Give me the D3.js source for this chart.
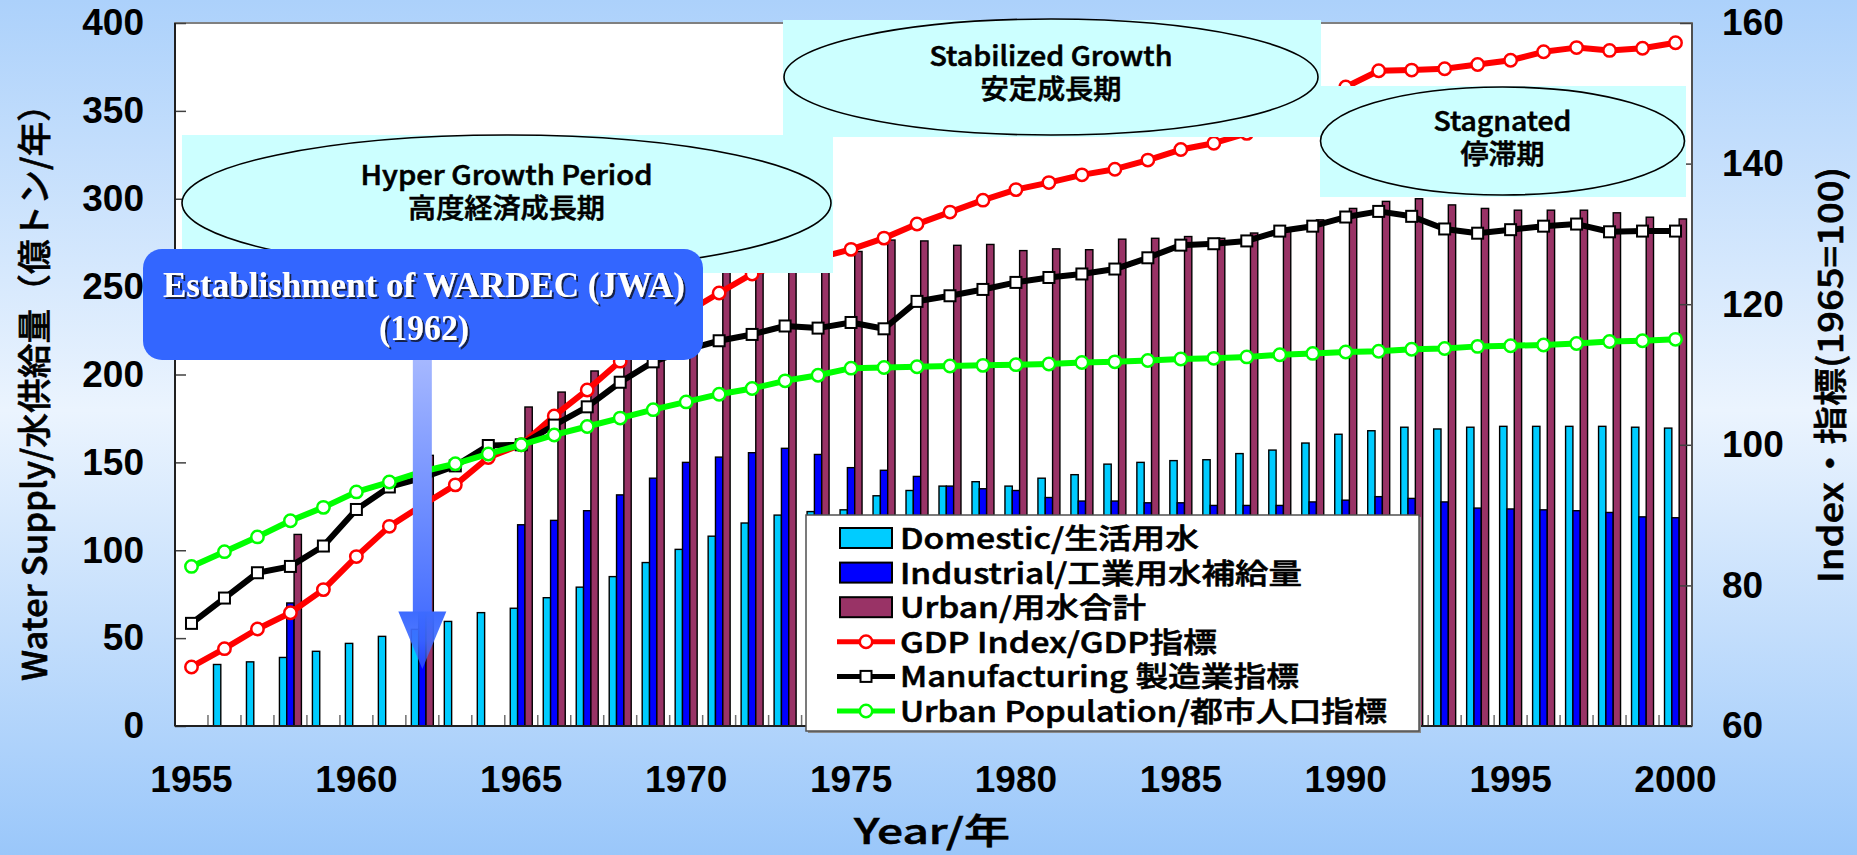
<!DOCTYPE html>
<html>
<head>
<meta charset="utf-8">
<script src="https://d3js.org/d3.v7.min.js"></script>
<style>
  html, body { margin: 0; padding: 0; }
  svg { display: block; }
</style>
</head>
<body>
<svg id="chart" width="1857" height="855"></svg>
<script>
// --- data ---
const years = [1955, 1956, 1957, 1958, 1959, 1960, 1961, 1962, 1963, 1964,
  1965, 1966, 1967, 1968, 1969, 1970, 1971, 1972, 1973, 1974,
  1975, 1976, 1977, 1978, 1979, 1980, 1981, 1982, 1983, 1984,
  1985, 1986, 1987, 1988, 1989, 1990, 1991, 1992, 1993, 1994,
  1995, 1996, 1997, 1998, 1999, 2000];

// 億トン/年
const domestic = [null, 35, 36.5, 39, 42.5, 47, 51, 55, 59.5, 64.5,
  67, 73, 79, 85, 93, 100.5, 108, 115.5, 120, 122,
  123, 131, 134, 136.5, 139, 136.5, 141, 143, 149, 150,
  151, 151.5, 155, 157, 161, 166, 168, 170, 169, 170,
  170.5, 170.5, 170.5, 170.5, 170, 169.5];
const industrial = [null, null, null, 70, null, null, null, 99, null, null,
  114.5, 117, 122.5, 131.5, 141, 150, 153, 155.5, 158, 154.5,
  147, 145.5, 142, 136.5, 135, 134, 130, 128, 128, 127,
  127, 125.5, 125.5, 125.5, 127.5, 128.5, 130.5, 129.5, 127.5, 124,
  123.5, 123, 122.5, 121.5, 119, 118.5];
const urban = [null, null, null, 109, null, null, null, 154, null, null,
  181.5, 190, 202, 216.5, 234, 250.5, 261.5, 271, 278, 276.5,
  270, 276.5, 276, 273.5, 274, 270.5, 271.5, 271, 277, 277.5,
  278.5, 277.5, 280.5, 282.5, 288, 294.5, 298.5, 300, 296.5, 294.5,
  293.5, 293.5, 293.5, 292, 289.5, 288.5];

// 指標 (1965=100)
const gdpIndex = [68.4, 71.0, 73.8, 76.1, 79.4, 84.1, 88.4, 91.4, 94.3, 98.2,
  100, 104.1, 107.8, 111.9, 115.5, 118.8, 121.6, 124.3, 125.8, 126.6,
  127.8, 129.4, 131.4, 133.1, 134.8, 136.3, 137.3, 138.4, 139.2, 140.5,
  142.0, 142.9, 144.3, 146.5, 148.7, 150.9, 153.2, 153.3, 153.5, 154.1,
  154.7, 155.9, 156.5, 156.1, 156.4, 157.2];
const mfgIndex = [74.6, 78.2, 81.8, 82.7, 85.6, 90.8, 94.0, 95.3, 97.0, 99.9,
  100, 102.8, 105.4, 108.9, 111.8, 113.5, 114.8, 115.7, 116.9, 116.6,
  117.4, 116.5, 120.4, 121.2, 122.1, 123.1, 123.8, 124.3, 125.0, 126.6,
  128.4, 128.6, 129.0, 130.4, 131.1, 132.4, 133.2, 132.5, 130.7, 130.1,
  130.6, 131.1, 131.4, 130.3, 130.4, 130.4];
const urbanPopIndex = [82.7, 84.8, 86.9, 89.2, 91.1, 93.3, 94.7, 96.2, 97.3, 98.7,
  100, 101.4, 102.6, 103.8, 105.0, 106.1, 107.2, 108.0, 109.1, 109.9,
  110.9, 111.0, 111.1, 111.2, 111.3, 111.4, 111.5, 111.7, 111.8, 112.0,
  112.2, 112.3, 112.5, 112.8, 113.0, 113.2, 113.3, 113.6, 113.7, 114.0,
  114.1, 114.2, 114.4, 114.7, 114.8, 115.0];

const leftTicks = [0, 50, 100, 150, 200, 250, 300, 350, 400];
const rightTicks = [60, 80, 100, 120, 140, 160];
const yearLabels = [1955, 1960, 1965, 1970, 1975, 1980, 1985, 1990, 1995, 2000];

const seriesNames = ["Domestic/生活用水", "Industrial/工業用水補給量", "Urban/用水合計",
  "GDP Index/GDP指標", "Manufacturing 製造業指標", "Urban Population/都市人口指標"];

// --- layout ---
const JP = "'Noto Sans CJK JP', 'Noto Sans', sans-serif";
const NUM = "'Liberation Sans', Arial, sans-serif";
const SERIF = "'Liberation Serif', 'Times New Roman', serif";
const plot = { left: 175, right: 1692, top: 23, bottom: 726 };

const svg = d3.select("#chart");
const defs = svg.append("defs");

const bg = defs.append("linearGradient").attr("id", "bg")
  .attr("x1", 0).attr("y1", 0).attr("x2", 0).attr("y2", 1);
bg.append("stop").attr("offset", "0").attr("stop-color", "#acd1fb");
bg.append("stop").attr("offset", "0.48").attr("stop-color", "#ebf4fe");
bg.append("stop").attr("offset", "1").attr("stop-color", "#9ac7fa");

const shaftGrad = defs.append("linearGradient").attr("id", "shaft")
  .attr("x1", 0).attr("y1", 0).attr("x2", 0).attr("y2", 1);
shaftGrad.append("stop").attr("offset", "0").attr("stop-color", "#a7b9ff");
shaftGrad.append("stop").attr("offset", "1").attr("stop-color", "#4870ff");

const headGrad = defs.append("linearGradient").attr("id", "head")
  .attr("x1", 0).attr("y1", 0).attr("x2", 0).attr("y2", 1);
headGrad.append("stop").attr("offset", "0").attr("stop-color", "#3d6bff").attr("stop-opacity", 1);
headGrad.append("stop").attr("offset", "0.5").attr("stop-color", "#3d6bff").attr("stop-opacity", 0.9);
headGrad.append("stop").attr("offset", "1").attr("stop-color", "#3d6bff").attr("stop-opacity", 0.6);

const shadow = defs.append("filter").attr("id", "shadow")
  .attr("x", "-5%").attr("y", "-20%").attr("width", "110%").attr("height", "140%");
shadow.append("feDropShadow").attr("dx", 2).attr("dy", 2).attr("stdDeviation", 0.6)
  .attr("flood-color", "#16224a").attr("flood-opacity", 1);

svg.append("rect").attr("width", 1857).attr("height", 855).attr("fill", "url(#bg)");
svg.append("rect")
  .attr("x", plot.left).attr("y", plot.top)
  .attr("width", plot.right - plot.left).attr("height", plot.bottom - plot.top)
  .attr("fill", "#fff").attr("stroke", "#808080").attr("stroke-width", 2);

// scales
const x = d3.scaleBand().domain(years).range([plot.left, plot.right]).padding(0);
const bw = x.bandwidth();
const xSub = d3.scaleBand().domain(["domestic", "industrial", "urban"])
  .range([0, bw]).paddingInner(0).paddingOuter(0.75);
const yL = d3.scaleLinear().domain([0, 400]).range([plot.bottom, plot.top]);
const yR = d3.scaleLinear().domain([60, 160]).range([plot.bottom, plot.top]);

// category tick marks (inside)
svg.append("g").selectAll("line")
  .data(years.slice(1))
  .join("line")
  .attr("x1", d => x(d)).attr("x2", d => x(d))
  .attr("y1", plot.bottom).attr("y2", plot.bottom - 11)
  .attr("stroke", "#707070").attr("stroke-width", 1.5);

// bars
const barSeries = [
  { key: "domestic", values: domestic, color: "#00ccff" },
  { key: "industrial", values: industrial, color: "#0000ff" },
  { key: "urban", values: urban, color: "#993366" }
];
barSeries.forEach(s => {
  svg.append("g").selectAll("rect")
    .data(years.map((yr, i) => ({ yr, v: s.values[i] })).filter(d => d.v != null))
    .join("rect")
    .attr("x", d => x(d.yr) + xSub(s.key))
    .attr("y", d => yL(d.v))
    .attr("width", xSub.bandwidth())
    .attr("height", d => yL(0) - yL(d.v))
    .attr("fill", s.color)
    .attr("stroke", "#000").attr("stroke-width", 1.4);
});

// lines
const lineSeries = [
  { values: gdpIndex, color: "#ff0000", marker: "circle" },
  { values: mfgIndex, color: "#000000", marker: "square" },
  { values: urbanPopIndex, color: "#00ff00", marker: "circle" }
];
const line = d3.line()
  .defined(d => d.v != null)
  .x(d => x(d.yr) + bw / 2)
  .y(d => yR(d.v));

function drawMarker(g, type, color, cx, cy) {
  if (type === "circle") {
    g.append("circle").attr("cx", cx).attr("cy", cy).attr("r", 6.2)
      .attr("fill", "#fff").attr("stroke", color).attr("stroke-width", 2.5);
  } else {
    g.append("rect").attr("x", cx - 5.5).attr("y", cy - 5.5)
      .attr("width", 11).attr("height", 11)
      .attr("fill", "#fff").attr("stroke", color).attr("stroke-width", 2);
  }
}

lineSeries.forEach(s => {
  const pts = years.map((yr, i) => ({ yr, v: s.values[i] }));
  const g = svg.append("g");
  g.append("path").datum(pts)
    .attr("fill", "none").attr("stroke", s.color)
    .attr("stroke-width", 6).attr("stroke-linejoin", "round")
    .attr("d", line);
  pts.filter(d => d.v != null).forEach(d =>
    drawMarker(g, s.marker, s.color, x(d.yr) + bw / 2, yR(d.v)));
});

// axes
function styleAxisText(sel) {
  sel.selectAll("text")
    .attr("font-family", NUM).attr("font-weight", "bold")
    .attr("font-size", 37).attr("fill", "#000");
}
const axL = svg.append("g").attr("transform", `translate(${plot.left},0)`)
  .call(d3.axisLeft(yL).tickValues(leftTicks).tickSize(-11).tickPadding(31));
axL.select(".domain").remove();
axL.selectAll(".tick line").attr("stroke", "#404040").attr("stroke-width", 1.5);
styleAxisText(axL);

const axR = svg.append("g").attr("transform", `translate(${plot.right},0)`)
  .call(d3.axisRight(yR).tickValues(rightTicks).tickSize(-12).tickPadding(30));
axR.select(".domain").remove();
axR.selectAll(".tick line").attr("stroke", "#404040").attr("stroke-width", 1.5);
styleAxisText(axR);

const axB = svg.append("g").attr("transform", `translate(0,${plot.bottom})`)
  .call(d3.axisBottom(x).tickValues(yearLabels).tickSize(0).tickPadding(40));
axB.select(".domain").remove();
styleAxisText(axB);

svg.append("line").attr("x1", plot.left).attr("x2", plot.left)
  .attr("y1", plot.top).attr("y2", plot.bottom)
  .attr("stroke", "#202020").attr("stroke-width", 2);
svg.append("line").attr("x1", plot.left).attr("x2", plot.right)
  .attr("y1", plot.bottom).attr("y2", plot.bottom)
  .attr("stroke", "#202020").attr("stroke-width", 2);
svg.append("line").attr("x1", plot.right).attr("x2", plot.right)
  .attr("y1", plot.top).attr("y2", plot.bottom)
  .attr("stroke", "#505050").attr("stroke-width", 2);

// text helpers: gothic text is medium weight with a hairline stroke to thicken it a bit
function jpText(g, o) {
  const t = g.append("text")
    .attr("font-family", o.family || JP)
    .attr("font-size", o.size)
    .attr("font-weight", o.weight || 500)
    .attr("text-anchor", o.anchor || "middle")
    .attr("fill", o.fill || "#000");
  if (!o.family) t.attr("stroke", "#000").attr("stroke-width", 0.6);
  return t;
}
function label(g, txt, o) {
  const t = jpText(g, o).text(txt).attr("x", o.x).attr("y", o.y);
  if (o.baseline) t.attr("dominant-baseline", o.baseline);
  if (o.len) t.attr("textLength", o.len).attr("lengthAdjust", "spacingAndGlyphs");
  if (o.rotate) t.attr("transform", `rotate(${o.rotate},${o.x},${o.y})`);
  return t;
}
// two-line block: lines = [[text, baselineY, width], ...]
function block(g, cx, lines, o) {
  const t = jpText(g, o);
  lines.forEach(l => t.append("tspan").text(l[0])
    .attr("x", cx).attr("y", l[1])
    .attr("textLength", l[2]).attr("lengthAdjust", "spacingAndGlyphs"));
  return t;
}

// axis titles
label(svg, "Water Supply/水供給量（億トン/年）",
  { x: 32, y: 384, size: 34, len: 594, rotate: -90, baseline: "central" });
label(svg, "Index・指標(1965=100)",
  { x: 1828, y: 375, size: 34, len: 416, rotate: -90, baseline: "central" });
label(svg, "Year/年", { x: 932, y: 844, size: 35, len: 156 });

// legend
const legend = svg.append("g");
legend.append("rect").attr("x", 808).attr("y", 517).attr("width", 613).attr("height", 216)
  .attr("fill", "#8a8a8a");
legend.append("rect").attr("x", 806).attr("y", 515).attr("width", 613).attr("height", 216)
  .attr("fill", "#fff").attr("stroke", "#505050").attr("stroke-width", 1.5);
const legendKinds = [
  { type: "bar", color: "#00ccff", len: 299 },
  { type: "bar", color: "#0000ff", len: 402 },
  { type: "bar", color: "#993366", len: 246 },
  { type: "line", color: "#ff0000", marker: "circle", len: 317 },
  { type: "line", color: "#000000", marker: "square", len: 399 },
  { type: "line", color: "#00ff00", marker: "circle", len: 487 }
];
seriesNames.forEach((name, i) => {
  const k = legendKinds[i];
  const cy = 538 + i * 34.6;
  if (k.type === "bar") {
    legend.append("rect").attr("x", 840).attr("y", cy - 10).attr("width", 52).attr("height", 20)
      .attr("fill", k.color).attr("stroke", "#000").attr("stroke-width", 2);
  } else {
    legend.append("line").attr("x1", 837).attr("x2", 895).attr("y1", cy).attr("y2", cy)
      .attr("stroke", k.color).attr("stroke-width", 5);
    drawMarker(legend, k.marker, k.color, 866, cy);
  }
  label(legend, name, { x: 900, y: cy + 11, size: 28, anchor: "start", len: k.len });
});

// period annotations
const periods = [
  { rect: [182, 135, 651, 138], ell: [506.5, 203, 324.5, 68],
    lines: [["Hyper Growth Period", 185, 292], ["高度経済成長期", 218, 197]] },
  { rect: [783, 20, 538, 117], ell: [1051, 77, 267, 58],
    lines: [["Stabilized Growth", 66, 243], ["安定成長期", 99, 141]] },
  { rect: [1320, 86, 366, 111], ell: [1502.5, 141, 182, 54],
    lines: [["Stagnated", 130.5, 138], ["停滞期", 164, 84]] }
];
periods.forEach(p => {
  const g = svg.append("g");
  g.append("rect").attr("x", p.rect[0]).attr("y", p.rect[1])
    .attr("width", p.rect[2]).attr("height", p.rect[3]).attr("fill", "#ccffff");
  g.append("ellipse").attr("cx", p.ell[0]).attr("cy", p.ell[1])
    .attr("rx", p.ell[2]).attr("ry", p.ell[3])
    .attr("fill", "#ccffff").attr("stroke", "#000").attr("stroke-width", 1.6);
  block(g, p.ell[0], p.lines, { size: 27 });
});

// WARDEC callout with arrow pointing at 1962
const ax = x(1962) + bw / 2;
const callout = svg.append("g");
callout.append("rect").attr("x", ax - 9.5).attr("y", 355).attr("width", 19).attr("height", 257)
  .attr("fill", "url(#shaft)");
callout.append("path")
  .attr("d", `M${ax - 24},611.5 L${ax + 24},611.5 L${ax},669 Z`)
  .attr("fill", "url(#head)");
callout.append("rect").attr("x", 143).attr("y", 249).attr("width", 560).attr("height", 111)
  .attr("rx", 19).attr("fill", "#3366ff");
block(callout, 424,
  [["Establishment of WARDEC (JWA)", 296.5, 522], ["(1962)", 340, 90]],
  { size: 35, family: SERIF, weight: "bold", fill: "#ffffff" })
  .attr("filter", "url(#shadow)");
</script>
</body>
</html>
